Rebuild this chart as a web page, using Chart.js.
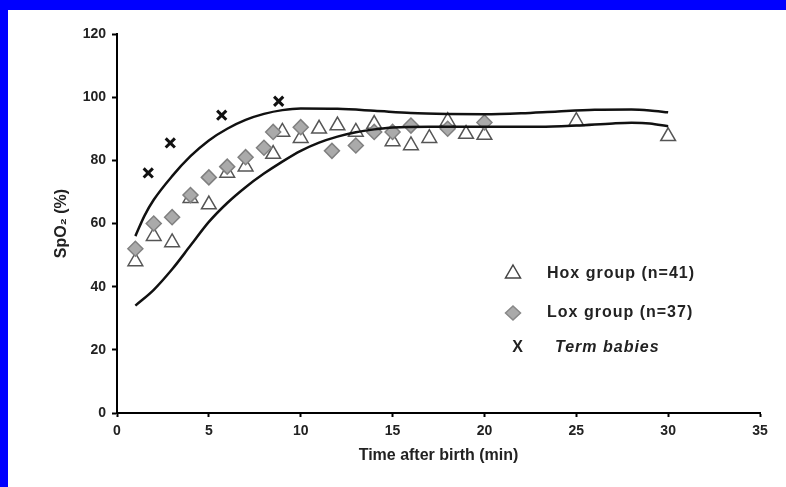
<!DOCTYPE html>
<html>
<head>
<meta charset="utf-8">
<script src="https://cdn.jsdelivr.net/npm/chart.js@4/dist/chart.umd.min.js"></script>
<style>
  html, body { margin: 0; padding: 0; background: #0000ff; }
  #wrap { position: absolute; left: 8px; top: 10px; width: 778px; height: 477px; background: #fff; }
</style>
</head>
<body>
<div id="wrap"><canvas id="c" width="778" height="477"></canvas></div>
<script>
// Hox group (open triangles)
const hoxX = [1, 2, 3, 4, 5, 6, 7, 8.5, 9, 10, 11, 12, 13, 14, 15, 16, 17, 18, 19, 20, 25, 30];
const hoxY = [48, 56, 54, 68, 66, 76, 78, 82, 89, 87, 90, 91, 89, 91.5, 86, 84.7, 87, 92.4, 88.3, 88, 92.4, 87.6];

// Lox group (grey diamonds)
const loxX = [1, 2, 3, 4, 5, 6, 7, 8, 8.5, 10, 11.7, 13, 14, 15, 16, 18, 20];
const loxY = [52, 60, 62, 69, 74.6, 78, 81, 84, 89, 90.5, 83, 84.7, 89, 89, 91, 90, 92];

// Term babies (X)
const termX = [1.7, 2.9, 5.7, 8.8];
const termY = [76, 85.5, 94.3, 98.7];

// upper / lower reference curves
const upperX = [1, 1.5, 2, 3, 4, 5, 6, 7, 8, 9, 10, 12, 14, 16, 18, 20, 22, 24, 26, 28, 29, 30];
const upperY = [56, 62.5, 67.5, 75, 81.3, 86.3, 90, 92.8, 94.7, 95.9, 96.4, 96.3, 95.7, 95, 94.7, 94.6, 94.9, 95.5, 96, 96.1, 95.8, 95.2];
const lowerX = [1, 2, 3, 4, 5, 6, 7, 8, 9, 10, 11, 12, 13, 14, 15, 17, 20, 23, 25, 27, 28, 29, 30];
const lowerY = [34, 39, 45.5, 53, 60.5, 66.5, 71.5, 75.8, 79.6, 83, 85.6, 87.5, 88.9, 89.8, 90.4, 90.6, 90.6, 90.6, 91, 91.7, 91.9, 91.7, 90.8];

const xTicks = [0, 5, 10, 15, 20, 25, 30, 35];
const yTicks = [0, 20, 40, 60, 80, 100, 120];

const toPts = (xs, ys) => xs.map((x, i) => ({ x: x, y: ys[i] }));

const FONT = '"Liberation Sans", Arial, sans-serif';
const TXT = '#222';

// legend drawn inside the plot, like the original figure
const boxLegend = {
  id: 'boxLegend',
  afterDraw(chart) {
    const ctx = chart.ctx;
    ctx.save();
    // triangle
    ctx.beginPath();
    ctx.moveTo(505, 255);
    ctx.lineTo(512.5, 268);
    ctx.lineTo(497.5, 268);
    ctx.closePath();
    ctx.fillStyle = '#fff';
    ctx.fill();
    ctx.strokeStyle = '#444';
    ctx.lineWidth = 1.5;
    ctx.stroke();
    // diamond
    ctx.beginPath();
    ctx.moveTo(505, 296);
    ctx.lineTo(512.5, 303);
    ctx.lineTo(505, 310);
    ctx.lineTo(497.5, 303);
    ctx.closePath();
    ctx.fillStyle = '#aaa';
    ctx.fill();
    ctx.strokeStyle = '#888';
    ctx.stroke();

    ctx.fillStyle = TXT;
    ctx.textBaseline = 'middle';
    ctx.textAlign = 'left';
    ctx.letterSpacing = '1px';
    ctx.font = 'bold 16px ' + FONT;
    ctx.fillText('Hox group (n=41)', 539, 264);
    ctx.fillText('Lox group (n=37)', 539, 303);
    ctx.textAlign = 'center';
    ctx.fillText('X', 510, 338);
    ctx.textAlign = 'left';
    ctx.font = 'italic bold 16px ' + FONT;
    ctx.fillText('Term babies', 547, 338);
    ctx.letterSpacing = '0px';
    ctx.restore();
  }
};

new Chart(document.getElementById('c').getContext('2d'), {
  type: 'scatter',
  data: {
    datasets: [
      {
        label: 'upper',
        data: toPts(upperX, upperY),
        showLine: true,
        borderColor: '#111',
        borderWidth: 2.5,
        pointRadius: 0,
        cubicInterpolationMode: 'monotone',
        order: 0
      },
      {
        label: 'lower',
        data: toPts(lowerX, lowerY),
        showLine: true,
        borderColor: '#111',
        borderWidth: 2.5,
        pointRadius: 0,
        cubicInterpolationMode: 'monotone',
        order: 0
      },
      {
        label: 'Lox group (n=37)',
        data: toPts(loxX, loxY),
        pointStyle: 'rectRot',
        pointRadius: 7.5,
        backgroundColor: '#aaa',
        borderColor: '#808080',
        borderWidth: 1.5,
        order: 1
      },
      {
        label: 'Hox group (n=41)',
        data: toPts(hoxX, hoxY),
        pointStyle: 'triangle',
        pointRadius: 8.5,
        backgroundColor: '#fff',
        borderColor: '#555',
        borderWidth: 1.5,
        order: 2
      },
      {
        label: 'Term babies',
        data: toPts(termX, termY),
        pointStyle: 'crossRot',
        pointRadius: 6.5,
        borderColor: '#111',
        borderWidth: 3,
        order: 1
      }
    ]
  },
  options: {
    responsive: false,
    animation: false,
    layout: { padding: { left: 40, top: 24, right: 26, bottom: 18 } },
    plugins: {
      legend: { display: false },
      tooltip: { enabled: false }
    },
    scales: {
      x: {
        type: 'linear',
        min: 0,
        max: 35,
        afterBuildTicks: (s) => { s.ticks = xTicks.map(v => ({ value: v })); },
        afterFit: (s) => { s.height = 56; },
        grid: { drawOnChartArea: false, color: '#000', tickLength: 4, tickWidth: 2 },
        border: { color: '#000', width: 2 },
        ticks: { color: TXT, padding: 6, font: { family: FONT, size: 14, weight: 'bold' } },
        title: {
          display: true,
          text: 'Time after birth (min)',
          color: TXT,
          font: { family: FONT, size: 16, weight: 'bold' }
        }
      },
      y: {
        min: 0,
        max: 120,
        afterBuildTicks: (s) => { s.ticks = yTicks.map(v => ({ value: v })); },
        afterFit: (s) => { s.width = 69; },
        grid: { drawOnChartArea: false, color: '#000', tickLength: 5, tickWidth: 2 },
        border: { color: '#000', width: 2 },
        ticks: { color: TXT, padding: 6, font: { family: FONT, size: 14, weight: 'bold' } },
        title: {
          display: true,
          text: 'SpO₂ (%)',
          color: TXT,
          font: { family: FONT, size: 16, weight: 'bold' }
        }
      }
    }
  },
  plugins: [boxLegend]
});
</script>
</body>
</html>
